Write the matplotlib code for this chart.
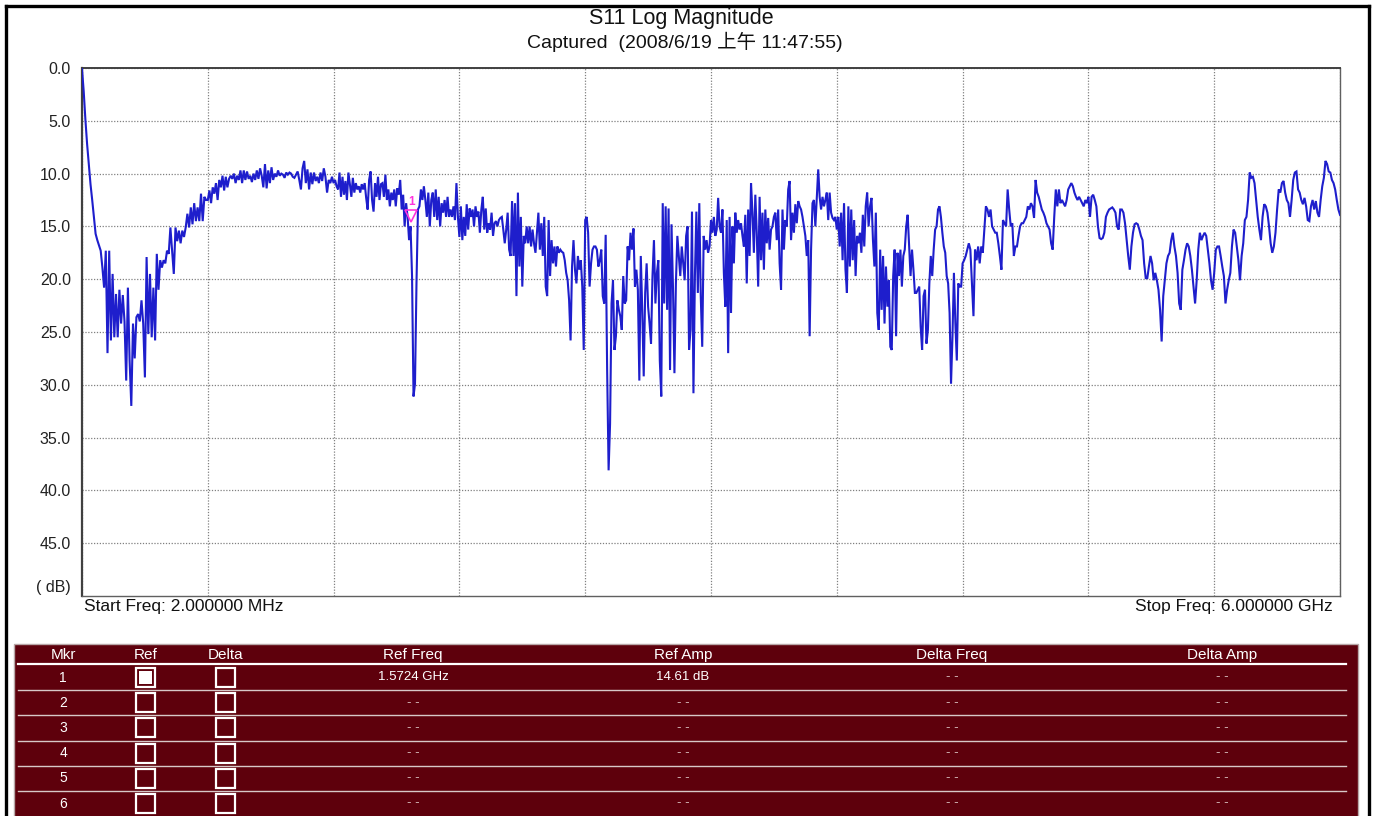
import numpy as np
import matplotlib
matplotlib.use("Agg")
import matplotlib.pyplot as plt
from matplotlib.patches import Rectangle
from matplotlib.lines import Line2D
import matplotlib.transforms as mtransforms

# ---------------- data ----------------
F_START = 0.002   # GHz
F_STOP = 6.0      # GHz

# S11 magnitude (dB, shown positive downward) read per horizontal grid division
s11_div01 = [0.1, 2.2, 4.9, 7.2, 9.1, 11.0, 12.5, 14.1, 15.7, 16.3, 16.8, 17.3, 18.9,
             20.8, 17.3, 27.0, 17.3, 25.8, 19.5, 25.5, 21.4, 25.5, 21.0, 24.2, 21.5, 24.0,
             29.6, 20.8, 27.7, 32.0, 24.2, 27.5, 23.6, 23.3, 24.0, 22.0, 24.2, 29.3, 17.9,
             25.2, 19.5, 25.5, 20.8, 25.8, 17.6, 21.0, 18.2, 18.9, 18.2, 18.5, 17.3, 17.6,
             15.1, 17.3, 19.5, 15.1, 16.4, 15.4, 16.6, 15.4, 16.0, 15.1, 13.8, 15.1, 13.2,
             14.8, 12.8, 14.5, 13.2, 14.5, 11.9, 14.5, 12.2, 12.5]
s11_div02 = [12.5, 11.6, 12.8, 11.3, 11.9, 10.9, 12.5, 10.6, 11.3, 10.2, 11.6, 10.3, 11.3,
             10.5, 10.2, 10.5, 10.0, 10.9, 10.2, 10.6, 9.7, 10.9, 9.7, 10.6, 9.8, 10.5, 10.2,
             10.8, 10.0, 10.6, 9.7, 10.5, 9.5, 10.2, 11.3, 9.1, 11.4, 9.7, 10.9, 9.4, 10.6,
             10.0, 10.3, 9.7, 10.2, 10.0, 10.1, 10.4, 9.9, 10.1, 9.9, 10.0, 10.3, 10.4, 10.1,
             9.8, 10.6, 11.5, 9.5, 8.8, 10.9, 9.6, 11.5, 9.9, 11.0, 9.9, 10.7, 10.3, 10.9,
             9.9, 10.7, 9.5, 10.3, 11.8, 10.6, 10.9, 10.3]
s11_div03 = [10.9, 10.6, 11.2, 11.5, 9.9, 12.2, 10.3, 12.0, 10.7, 12.5, 9.9, 11.0, 12.2,
             10.4, 11.8, 10.9, 11.5, 11.2, 11.8, 11.0, 11.5, 10.9, 12.3, 13.4, 10.6, 9.8,
             12.5, 13.6, 10.9, 12.2, 10.3, 12.5, 11.0, 10.9, 12.2, 10.1, 12.5, 11.5, 13.1,
             11.8, 12.5, 11.5, 13.1, 11.4, 12.0, 10.6, 13.4, 12.0, 15.0, 12.8, 14.1, 16.3,
             15.0, 19.7, 31.1, 29.9, 20.4, 13.4, 13.1, 11.5, 12.5, 11.2, 12.5, 14.1, 11.8,
             15.0, 12.5, 11.8, 14.1, 11.5, 14.4, 12.2, 15.0, 12.8, 13.7, 12.5, 14.1, 12.2,
             14.1, 13.4, 14.1, 13.1, 14.4, 10.9, 14.1]
s11_div04 = [16.0, 13.1, 16.3, 14.1, 15.9, 12.9, 15.3, 13.3, 14.1, 13.4, 15.0, 13.1, 14.1,
             13.6, 15.6, 13.4, 12.2, 15.3, 13.3, 15.6, 14.7, 15.3, 13.7, 15.9, 14.7, 14.5,
             15.0, 14.4, 14.2, 14.1, 15.3, 16.6, 15.3, 13.7, 17.2, 17.8, 12.6, 17.8, 12.8,
             21.6, 11.8, 18.8, 14.1, 20.7, 15.9, 16.6, 15.0, 16.6, 15.0, 16.9, 15.3, 16.6,
             17.5, 15.6, 13.7, 17.2, 14.7, 17.8, 14.1, 20.7, 21.6, 14.4, 19.7, 16.3, 18.5,
             16.9, 18.8, 16.9, 17.5, 17.2, 17.4, 17.5, 18.2, 19.4, 20.1, 22.0, 25.8, 18.8,
             16.3, 19.1, 20.4, 17.8, 19.1, 18.2, 20.7, 26.7]
s11_div05 = [14.4, 14.1, 15.6, 20.7, 18.5, 17.2, 16.9, 16.9, 17.2, 18.8, 18.2, 17.2, 21.6,
             22.3, 15.8, 28.6, 38.1, 33.7, 22.3, 20.1, 26.7, 25.4, 22.0, 22.9, 23.5, 24.8,
             19.7, 22.3, 22.0, 16.9, 18.2, 15.6, 17.2, 15.2, 20.7, 19.1, 21.0, 29.6, 17.8,
             22.9, 29.2, 21.3, 18.5, 22.6, 24.2, 26.1, 19.7, 16.3, 22.3, 19.4, 18.2, 27.7,
             31.1, 12.8, 22.3, 13.1, 22.9, 13.3, 28.6, 14.8, 20.7, 28.9, 20.4, 15.9, 17.8,
             19.7, 16.9, 18.5, 20.1, 15.9, 15.0, 26.7, 24.8, 13.6, 30.8, 19.7, 13.6, 21.3,
             12.8, 21.6, 26.4, 15.9, 17.2, 16.3, 17.5, 16.9]
s11_div06 = [14.4, 15.6, 14.1, 15.9, 15.3, 12.3, 15.0, 15.6, 13.4, 19.4, 22.6, 14.4, 27.0,
             14.1, 23.2, 15.0, 18.5, 13.7, 15.6, 14.4, 15.3, 14.7, 15.9, 16.9, 13.9, 20.4,
             13.4, 17.8, 10.9, 13.7, 17.5, 12.0, 15.6, 20.7, 12.2, 18.2, 13.7, 19.1, 13.4,
             16.6, 14.2, 17.2, 15.3, 15.0, 14.1, 13.7, 16.3, 13.4, 18.5, 21.0, 13.4, 17.2,
             14.4, 15.0, 11.5, 10.7, 16.3, 13.7, 15.6, 12.9, 14.7, 12.6, 13.1, 13.4, 14.1,
             15.0, 15.9, 17.8, 16.3, 25.4, 17.2, 12.8, 12.5, 15.0, 12.2, 9.6, 12.2, 13.4,
             12.2, 13.1, 12.5, 11.8, 14.4, 11.8, 13.7, 14.2, 14.4, 14.1]
s11_div07 = [15.3, 14.1, 16.9, 13.7, 18.2, 12.8, 19.1, 21.3, 13.1, 18.8, 13.4, 18.2, 14.4,
             19.7, 15.9, 16.6, 15.6, 17.5, 13.9, 16.9, 13.1, 11.8, 15.0, 13.1, 12.3, 16.3,
             18.8, 13.7, 23.2, 24.8, 17.2, 22.9, 17.8, 24.2, 18.8, 22.6, 20.1, 26.4, 26.7,
             19.7, 17.2, 25.4, 17.5, 19.7, 17.2, 20.7, 17.8, 17.2, 15.0, 13.9, 16.9, 19.7,
             17.2, 19.1, 21.3, 21.3, 21.0, 20.7, 24.5, 26.7, 21.6, 21.0, 26.1, 24.8, 20.4,
             17.8, 19.7, 17.2, 15.3, 15.0, 13.4, 13.1, 14.1, 15.6, 16.9, 17.5, 19.7, 20.4,
             23.2, 29.9, 25.4, 19.4, 24.2, 27.7, 20.4, 20.7, 20.7]
s11_div08 = [18.5, 18.2, 17.8, 17.2, 16.6, 17.2, 20.4, 23.5, 17.2, 18.2, 16.9, 18.5, 16.9,
             17.5, 15.3, 13.1, 13.4, 14.1, 13.4, 15.0, 15.3, 15.6, 15.6, 16.6, 17.8, 19.1,
             14.4, 14.7, 15.0, 11.5, 13.4, 15.0, 14.7, 17.8, 16.9, 16.9, 15.9, 15.0, 14.7,
             14.7, 14.4, 14.1, 13.1, 13.4, 12.8, 13.1, 14.2, 10.6, 11.8, 12.2, 12.8, 13.4,
             13.7, 14.1, 14.7, 15.0, 15.3, 16.6, 17.2, 14.1, 11.5, 13.1, 11.5, 12.8, 12.5,
             12.8, 13.1, 12.5, 11.5, 11.2, 10.9, 11.2, 11.8, 12.2, 12.5, 12.2, 12.5, 12.8,
             13.1, 12.5, 12.8]
s11_div09 = [12.2, 14.1, 12.2, 12.0, 12.5, 13.1, 15.0, 16.1, 16.2, 16.1, 15.6, 14.1, 13.7,
             13.4, 13.3, 13.2, 13.4, 13.7, 15.0, 15.3, 13.4, 13.4, 13.7, 14.7, 16.3, 17.8,
             19.1, 16.9, 15.6, 14.8, 14.7, 14.8, 15.3, 15.9, 16.3, 18.5, 19.9, 19.9, 18.8,
             17.8, 18.5, 20.1, 19.4, 20.1, 21.0, 22.9, 25.9, 21.6, 20.1, 18.5, 17.8, 17.5,
             16.3, 15.6, 16.9, 17.8, 19.4, 22.3, 22.9, 19.1, 18.2, 17.2, 16.6, 16.9, 17.8,
             19.1, 20.7, 22.3, 20.1, 17.2, 15.6, 16.3, 15.9, 15.6, 15.9, 17.2, 18.5, 20.1,
             21.0]
s11_div10 = [19.4, 17.2, 16.9, 16.9, 17.8, 18.8, 19.7, 22.3, 21.0, 20.1, 19.4, 16.9, 15.3,
             15.6, 16.9, 18.2, 20.1, 17.8, 16.6, 14.4, 14.1, 12.5, 9.9, 10.4, 10.3, 10.9,
             12.5, 14.1, 15.3, 16.3, 14.1, 12.9, 13.1, 13.7, 15.0, 16.6, 17.5, 16.9, 15.6,
             13.4, 11.5, 11.8, 10.9, 10.7, 11.8, 12.5, 12.8, 14.1, 12.5, 10.6, 9.9, 9.8,
             11.5, 11.8, 12.5, 12.9, 12.3, 13.1, 14.4, 14.5, 13.1, 12.5, 13.4, 12.6, 13.7,
             14.1, 12.5, 11.2, 10.4, 8.8, 9.1, 9.8, 9.9, 10.6, 10.9, 11.5, 12.5, 13.4, 13.9]

s11_divisions = [s11_div01, s11_div02, s11_div03, s11_div04, s11_div05,
                 s11_div06, s11_div07, s11_div08, s11_div09, s11_div10]

title_text = "S11 Log Magnitude"
subtitle_text = "Captured  (2008/6/19 上午 11:47:55)"
y_ticks = [0, 5, 10, 15, 20, 25, 30, 35, 40, 45]
y_tick_labels = ["0.0", "5.0", "10.0", "15.0", "20.0", "25.0", "30.0", "35.0", "40.0", "45.0"]
unit_label = "( dB)"
start_label = "Start Freq: 2.000000 MHz"
stop_label = "Stop Freq: 6.000000 GHz"

marker_freq = 1.5724
marker_amp = 14.61
marker_name = "1"

table_headers = ["Mkr", "Ref", "Delta", "Ref Freq", "Ref Amp", "Delta Freq", "Delta Amp"]
table_mkr = ["1", "2", "3", "4", "5", "6"]
table_ref_on = [True, False, False, False, False, False]
table_ref_freq = ["1.5724 GHz", "- -", "- -", "- -", "- -", "- -"]
table_ref_amp = ["14.61 dB", "- -", "- -", "- -", "- -", "- -"]
table_delta_freq = ["- -", "- -", "- -", "- -", "- -", "- -"]
table_delta_amp = ["- -", "- -", "- -", "- -", "- -", "- -"]

# ---------------- build sweep ----------------
edges = np.linspace(F_START, F_STOP, len(s11_divisions) + 1)
freq_parts, val_parts = [], []
for i, seg in enumerate(s11_divisions):
    n = len(seg)
    last = (i == len(s11_divisions) - 1)
    f = np.linspace(edges[i], edges[i + 1], n, endpoint=last)
    freq_parts.append(f)
    val_parts.append(np.asarray(seg, dtype=float))
freq = np.concatenate(freq_parts)
s11 = np.concatenate(val_parts)

# ---------------- figure ----------------
plt.rcParams['font.family'] = ['Liberation Sans', 'Noto Sans CJK TC', 'DejaVu Sans']
W, H = 1374, 816
fig = plt.figure(figsize=(W / 100, H / 100), dpi=100)
fig.patch.set_facecolor('white')

# pixel-space overlay axes for decorations
ov = fig.add_axes([0, 0, 1, 1])
ov.set_xlim(0, W)
ov.set_ylim(H, 0)
ov.axis('off')

# outer black frame (left, top, right)
frame_kw = dict(color='black', lw=2.4, solid_capstyle='projecting')
ov.add_line(Line2D([5.5, 5.5], [5.5, H + 5], **frame_kw))
ov.add_line(Line2D([5.5, 1368.5], [5.5, 5.5], **frame_kw))
ov.add_line(Line2D([1368.5, 1368.5], [5.5, H + 5], **frame_kw))

# main plot
ax = fig.add_axes([82 / W, 1 - 596 / H, 1258 / W, 528 / H])
ax.plot(freq, s11, color='#1e1ecc', lw=1.5, zorder=3, solid_joinstyle='miter')
ax.set_xlim(F_START, F_STOP)
ax.set_ylim(50, 0)
ax.set_xticks(edges)
ax.set_yticks(y_ticks)
ax.set_yticklabels(y_tick_labels)
ax.tick_params(axis='both', length=0, labelsize=11.5, pad=8, colors='#222222')
ax.tick_params(axis='x', labelbottom=False)
ax.grid(True, color='#808080', linestyle=(0, (1, 1.3)), linewidth=0.9)
for sp in ax.spines.values():
    sp.set_color('#606060')
    sp.set_linewidth(1.0)
ax.spines['left'].set_color('#404040')
ax.spines['left'].set_linewidth(1.6)
ax.spines['top'].set_color('#404040')
ax.spines['top'].set_linewidth(1.4)

ax.annotate(unit_label, xy=(0, 49.2), xycoords=('axes fraction', 'data'),
            xytext=(-11, 0), textcoords='offset pixels', ha='right', va='center',
            fontsize=11.5, color='#222222')

# marker 1
tri_tr = mtransforms.offset_copy(ax.transData, fig=fig, x=0, y=4.2, units='points')
ax.plot([marker_freq], [marker_amp], marker='v', ms=8.5, mfc='none', mec='#ff33dd',
        mew=1.2, transform=tri_tr, zorder=5, clip_on=False)
ax.annotate(marker_name, xy=(marker_freq, marker_amp), xytext=(0, 20),
            textcoords='offset pixels', ha='center', va='center', color='#ff33dd',
            fontsize=8.5, fontweight='bold', zorder=5)

# titles and footer labels
ov.text(681, 18, title_text, ha='center', va='baseline', fontsize=15.5, color='#111111',
        transform=mtransforms.offset_copy(ov.transData, fig=fig, x=0, y=-6, units='dots'))
ov.text(685, 48, subtitle_text, ha='center', va='baseline', fontsize=14, color='#111111')
ov.text(84, 606, start_label, ha='left', va='center', fontsize=12.5, color='#111111')
ov.text(1333, 606, stop_label, ha='right', va='center', fontsize=12.5, color='#111111')

# ---------------- marker table ----------------
tbl_red = '#5e000c'
ov.add_patch(Rectangle((14, 643.5), 1344, 190, facecolor=tbl_red, edgecolor='#b8a8a8', lw=1.0))
col_x = [63, 146, 226, 413, 683, 952, 1222]
for x, h in zip(col_x, table_headers):
    ov.text(x, 655, h, ha='center', va='center', fontsize=11, color='white')
ov.add_line(Line2D([18, 1346], [664, 664], color='white', lw=1.6))
row_y0, row_dy = 677.5, 25.2
for i in range(len(table_mkr)):
    y = row_y0 + i * row_dy
    if i < len(table_mkr) - 1:
        ov.add_line(Line2D([18, 1346], [y + 12.6, y + 12.6], color='#d8c8c8', lw=1.0))
    ov.text(col_x[0], y, table_mkr[i], ha='center', va='center', fontsize=10, color='white')
    for cx in (col_x[1] - 1, col_x[2] - 1):
        ov.add_patch(Rectangle((cx - 9.5, y - 9.5), 19, 19, facecolor='none',
                               edgecolor='white', lw=1.6))
    if table_ref_on[i]:
        ov.add_patch(Rectangle((col_x[1] - 1 - 6.5, y - 6.5), 13, 13,
                               facecolor='white', edgecolor='none'))
    vals = [table_ref_freq[i], table_ref_amp[i], table_delta_freq[i], table_delta_amp[i]]
    for x, v in zip(col_x[3:], vals):
        c = 'white' if v != "- -" else '#d8c0c0'
        ov.text(x, y, v, ha='center', va='center', fontsize=9.5, color=c)

fig.savefig('out.png', dpi=100, facecolor='white')
